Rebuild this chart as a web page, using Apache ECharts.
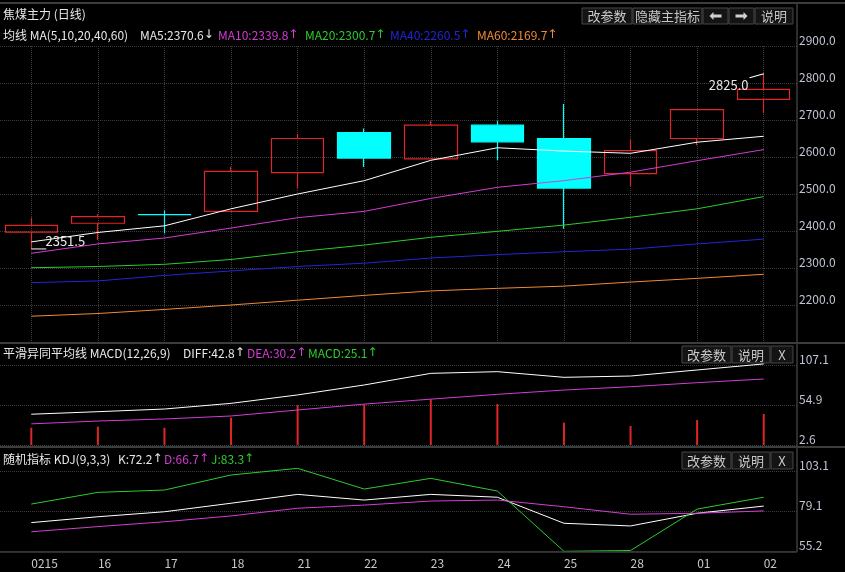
<!DOCTYPE html>
<html>
<head>
<meta charset="utf-8">
<script src="https://cdn.jsdelivr.net/npm/echarts@6/dist/echarts.min.js"></script>
<style>
html, body { margin: 0; padding: 0; background: #000; }
#main { width: 845px; height: 572px; }
</style>
</head>
<body>
<div id="main"></div>
<script>
let dates = ['0215', '16', '17', '18', '21', '22', '23', '24', '25', '28', '01', '02'];
// [open, close, low, high]
let kline = [
    [2397, 2415, 2351.5, 2436],
    [2421, 2439, 2376, 2445],
    [2444.5, 2444, 2394, 2455.6],
    [2453, 2561, 2453, 2573],
    [2558, 2650, 2516, 2663],
    [2666, 2597, 2573, 2677],
    [2595, 2686, 2595, 2697],
    [2686, 2641, 2591, 2697],
    [2650, 2516, 2406, 2743],
    [2555, 2617, 2521, 2647],
    [2650, 2728, 2632, 2729],
    [2756, 2783, 2718, 2825]
];
let ma5 = [2370.6, 2396, 2414, 2460, 2500, 2536, 2591, 2625, 2616, 2610, 2640, 2656];
let ma10 = [2339.8, 2365, 2381, 2408, 2436, 2453, 2488, 2518, 2536, 2559, 2590, 2620];
let ma20 = [2300.7, 2304, 2310, 2323, 2344, 2362, 2383, 2399, 2416, 2437, 2460, 2493];
let ma40 = [2260.5, 2265, 2280, 2292, 2304, 2313, 2327, 2336, 2344, 2351, 2365, 2378];
let ma60 = [2169.7, 2177, 2188, 2200, 2213, 2226, 2238, 2245, 2251, 2262, 2272, 2283];

let diff = [42.8, 46.1, 49.6, 57, 68, 81, 96.2, 98.4, 91, 92.7, 100.6, 108.5];
let dea = [30.2, 33.9, 36.6, 40.5, 48.3, 56, 62.5, 68.8, 74.4, 78.7, 84, 88.8];
let macd = [25.1, 26.5, 25.2, 38.3, 54.8, 55.7, 62.3, 56.1, 31.7, 27.4, 35.2, 43.1];

let kk = [72.2, 75.7, 78.7, 83.8, 89.1, 85.7, 89.1, 87.4, 71.8, 70.2, 77.8, 82.1];
let dd = [66.7, 69.8, 72.7, 76.2, 80.8, 82.7, 85.1, 85.7, 81.7, 77.2, 77.8, 79.2];
let jj = [83.3, 90.3, 91.7, 100.7, 104.7, 92.3, 98.7, 91.1, 55.0, 55.5, 80.3, 87.4];

let macdTicks = ['2.6', '54.9', '107.1'];
let kdjTicks = ['55.2', '79.1', '103.1'];

const FONT = 'Noto Sans CJK SC';
const C_WHITE = '#e8e8e8';
const C_MAG = '#d43cd4';
const C_GREEN = '#2ccc2c';
const C_BLUE = '#2424d8';
const C_ORANGE = '#f08a34';
const C_RED = '#e02626';
const C_CYAN = '#00ffff';
const GRID_LINE = {color: '#3c3c3c', type: 'dotted', width: 1};

let lowVal = Math.min(...kline.map(d => d[2]));
let highVal = Math.max(...kline.map(d => d[3]));
let lowIdx = kline.findIndex(d => d[2] === lowVal);
let highIdx = kline.findIndex(d => d[3] === highVal);

// text + a narrow arrow glyph
function txt(x, y, text, color, arrow) {
    let s = '{t|' + text + '}' + (arrow ? '{a|' + arrow + '}' : '');
    return {type: 'text', x: x, y: y, z: 100,
        style: {text: s, verticalAlign: 'middle',
            rich: {
                t: {fill: color, fontSize: 12, fontFamily: FONT},
                a: {fill: color, fontSize: 12, fontFamily: 'DejaVu Sans'}
            }}};
}
function btn(x, y, w, h, text) {
    return {type: 'group', z: 100, children: [
        {type: 'rect', shape: {x: x, y: y, width: w, height: h},
            style: {fill: '#141414', stroke: '#474747', lineWidth: 1}},
        {type: 'text', x: x + w / 2, y: y + h / 2 + 0.5,
            style: {text: text, fill: '#c8c8c8', fontSize: 13, fontFamily: FONT, align: 'center', verticalAlign: 'middle'}}
    ]};
}
function arrowBtn(x, y, w, h, dir) {
    let cx = x + w / 2, cy = y + h / 2;
    let pts = [[-6, 0], [-2, -4], [-2, -1.5], [6, -1.5], [6, 1.5], [-2, 1.5], [-2, 4]];
    return {type: 'group', z: 100, children: [
        {type: 'rect', shape: {x: x, y: y, width: w, height: h},
            style: {fill: '#141414', stroke: '#474747', lineWidth: 1}},
        {type: 'polygon', shape: {points: pts.map(p => [cx + p[0] * dir, cy + p[1]])},
            style: {fill: '#d0d0d0'}}
    ]};
}
function hline(x1, x2, y, w) {
    return {type: 'line', z: 100, shape: {x1: x1, y1: y, x2: x2, y2: y},
        style: {stroke: '#3c3c3c', lineWidth: w}};
}

let graphics = [
    hline(0, 845, 3, 2),
    hline(0, 845, 343, 2),
    hline(0, 845, 447, 2),
    hline(0, 797, 552, 1.5),
    {type: 'line', z: 100, shape: {x1: 797, y1: 3, x2: 797, y2: 552}, style: {stroke: '#3c3c3c', lineWidth: 1.5}},
    txt(3, 14, '焦煤主力 (日线)', C_WHITE),
    btn(582, 8, 50, 16, '改参数'),
    btn(633, 8, 69, 16, '隐藏主指标'),
    arrowBtn(703, 8, 25, 16, 1),
    arrowBtn(729, 8, 25, 16, -1),
    btn(755, 8, 38, 16, '说明'),
    txt(3, 35, '均线 MA(5,10,20,40,60)', C_WHITE),
    txt(140, 35, 'MA5:' + ma5[0].toFixed(1), C_WHITE, '↓'),
    txt(218, 35, 'MA10:' + ma10[0].toFixed(1), C_MAG, '↑'),
    txt(305, 35, 'MA20:' + ma20[0].toFixed(1), C_GREEN, '↑'),
    txt(390, 35, 'MA40:' + ma40[0].toFixed(1), C_BLUE, '↑'),
    txt(477, 35, 'MA60:' + ma60[0].toFixed(1), C_ORANGE, '↑'),
    txt(3, 353, '平滑异同平均线 MACD(12,26,9)', C_WHITE),
    txt(183, 353, 'DIFF:' + diff[0].toFixed(1), C_WHITE, '↑'),
    txt(247, 353, 'DEA:' + dea[0].toFixed(1), C_MAG, '↑'),
    txt(308, 353, 'MACD:' + macd[0].toFixed(1), C_GREEN, '↑'),
    btn(682, 346, 49, 17, '改参数'),
    btn(732, 346, 38, 17, '说明'),
    btn(771, 346, 22, 17, 'X'),
    txt(3, 459, '随机指标 KDJ(9,3,3)', C_WHITE),
    txt(118, 459, 'K:' + kk[0].toFixed(1), C_WHITE, '↑'),
    txt(164, 459, 'D:' + dd[0].toFixed(1), C_MAG, '↑'),
    txt(211, 459, 'J:' + jj[0].toFixed(1), C_GREEN, '↑'),
    btn(682, 452, 49, 17, '改参数'),
    btn(732, 452, 38, 17, '说明'),
    btn(771, 452, 22, 17, 'X')
];

function xAxisFor(i) {
    return {
        type: 'category', gridIndex: i, data: dates, boundaryGap: true,
        axisLine: {show: false}, axisTick: {show: false},
        axisLabel: i === 2 ? {show: true, interval: 0, align: 'left', margin: 6,
            color: '#c8c8c8', fontSize: 12, fontFamily: FONT} : {show: false},
        splitLine: i === 0 ? {show: true, interval: 0, alignWithLabel: true, lineStyle: GRID_LINE} : {show: false}
    };
}
function yLabel(extra) {
    return Object.assign({show: true, margin: 2, verticalAlign: 'bottom',
        color: '#c0c4d4', fontSize: 12, fontFamily: FONT}, extra);
}
function lineSeries(data, color, xi) {
    return {type: 'line', xAxisIndex: xi, yAxisIndex: xi, data: data, symbol: 'none',
        showSymbol: false, clip: false, lineStyle: {color: color, width: 1}, itemStyle: {color: color}, z: 5};
}

let chart = echarts.init(document.getElementById('main'));
chart.setOption({
    backgroundColor: '#000',
    animation: false,
    grid: [
        {left: -2, right: 48, top: 46, height: 296, outerBoundsMode: 'none'},
        {left: -2, right: 48, top: 365, height: 80, outerBoundsMode: 'none'},
        {left: -2, right: 48, top: 471, height: 80, outerBoundsMode: 'none'}
    ],
    xAxis: [xAxisFor(0), xAxisFor(1), xAxisFor(2)],
    yAxis: [
        {type: 'value', gridIndex: 0, position: 'right', min: 2100, max: 2900, interval: 100,
            axisLine: {show: false}, axisTick: {show: false},
            axisLabel: yLabel({showMinLabel: false, formatter: v => v.toFixed(1)}),
            splitLine: {show: true, lineStyle: GRID_LINE}},
        {type: 'value', gridIndex: 1, position: 'right', min: 2.6, max: 107.1, interval: 52.25,
            axisLine: {show: false}, axisTick: {show: false},
            axisLabel: yLabel({formatter: (v, i) => macdTicks[i]}),
            splitLine: {show: true, lineStyle: GRID_LINE}},
        {type: 'value', gridIndex: 2, position: 'right', min: 55.2, max: 103.1, interval: 23.95,
            axisLine: {show: false}, axisTick: {show: false},
            axisLabel: yLabel({formatter: (v, i) => kdjTicks[i]}),
            splitLine: {show: true, lineStyle: GRID_LINE}}
    ],
    series: [
        {
            type: 'candlestick', xAxisIndex: 0, yAxisIndex: 0, data: kline, barWidth: 53, clip: false,
            itemStyle: {color: 'rgba(0,0,0,0)', color0: C_CYAN, borderColor: C_RED, borderColor0: C_CYAN, borderWidth: 1.2},
            markPoint: {
                animation: false,
                data: [
                    {coord: [dates[lowIdx], lowVal], symbol: 'rect', symbolSize: [15, 1], symbolOffset: [7.5, 0],
                        itemStyle: {color: '#ffffff'},
                        label: {show: true, position: 'inside', offset: [26.5, -8], formatter: lowVal.toFixed(1),
                            color: C_WHITE, fontSize: 13, fontFamily: FONT}},
                    {coord: [dates[highIdx], highVal], symbol: 'rect', symbolSize: [15, 1], symbolOffset: [-7, 2],
                        symbolRotate: 16, itemStyle: {color: '#ffffff'},
                        label: {show: true, position: 'inside', offset: [-28, 9], formatter: highVal.toFixed(1),
                            color: C_WHITE, fontSize: 13, fontFamily: FONT}}
                ]
            }
        },
        lineSeries(ma5, '#ffffff', 0),
        lineSeries(ma10, C_MAG, 0),
        lineSeries(ma20, C_GREEN, 0),
        lineSeries(ma40, C_BLUE, 0),
        lineSeries(ma60, C_ORANGE, 0),
        {type: 'bar', xAxisIndex: 1, yAxisIndex: 1, data: macd, barWidth: 2, itemStyle: {color: C_RED}},
        lineSeries(diff, '#ffffff', 1),
        lineSeries(dea, C_MAG, 1),
        lineSeries(kk, '#ffffff', 2),
        lineSeries(dd, C_MAG, 2),
        lineSeries(jj, C_GREEN, 2)
    ],
    graphic: graphics
});
</script>
</body>
</html>
